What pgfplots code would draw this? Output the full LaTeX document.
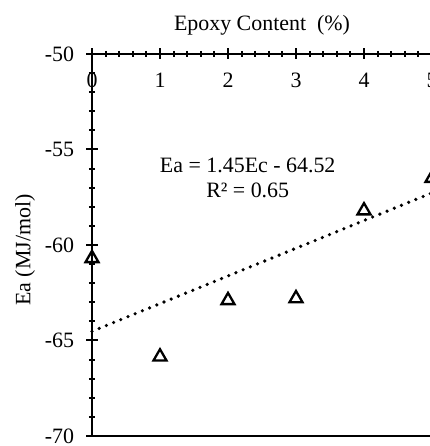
\documentclass[border=0pt]{standalone}
\usepackage{fontspec}
\setmainfont{Liberation Serif}
\usepackage{pgfplots}
\pgfplotsset{compat=1.18}
\begin{document}
\fontsize{22}{26}\selectfont
\begin{tikzpicture}
\path[use as bounding box] (0,0) rectangle (430bp,446bp);
\clip (0,0) rectangle (430bp,446bp);
\begin{axis}[
  at={(92bp,10bp)}, anchor=south west,
  scale only axis, width=340bp, height=382bp,
  xmin=0, xmax=5, ymin=-70, ymax=-50,
  clip=false,
  axis x line*=top, axis y line*=left,
  axis line style={line width=2.6bp, black},
  xtick={0,1,2,3,4,5}, ytick={-70,-65,-60,-55,-50},
  minor x tick num=4, minor y tick num=4,
  tick style={black, line width=2bp},
  major tick length=11bp, minor tick length=6bp,
  tick align=center,
  /pgf/number format/assume math mode=true,
  ticklabel style={font=\fontsize{22}{26}\selectfont},
  xticklabel style={anchor=center, yshift=-32bp},
  yticklabel style={xshift=-5bp},
]
\addplot[black, line width=3.6bp, line cap=round, dash pattern=on 0pt off 7.8pt] coordinates {(0,-64.52) (5.1,-57.125)};
\addplot[only marks, mark=triangle, mark size=7.5bp, mark options={black, line width=2.3bp, fill=white}] coordinates {
(0,-60.7) (1,-65.85) (2,-62.9) (3,-62.8) (4,-58.2) (5,-56.5)};
\draw[black, line width=2.6bp] (rel axis cs:0,0) -- (rel axis cs:1,0);
\node[align=center, font=\fontsize{22}{25}\selectfont] at (axis cs:2.29,-56.5) {Ea = 1.45Ec - 64.52\\R² = 0.65};
\node[font=\fontsize{22}{26}\selectfont] at (rel axis cs:0.5,1) [yshift=29bp] {Epoxy Content\ \ (\%)};
\node[xshift=-67bp, yshift=-5bp, rotate=90, font=\fontsize{22}{26}\selectfont] at (rel axis cs:0,0.5) {Ea (MJ/mol)};
\end{axis}
\end{tikzpicture}
\end{document}
